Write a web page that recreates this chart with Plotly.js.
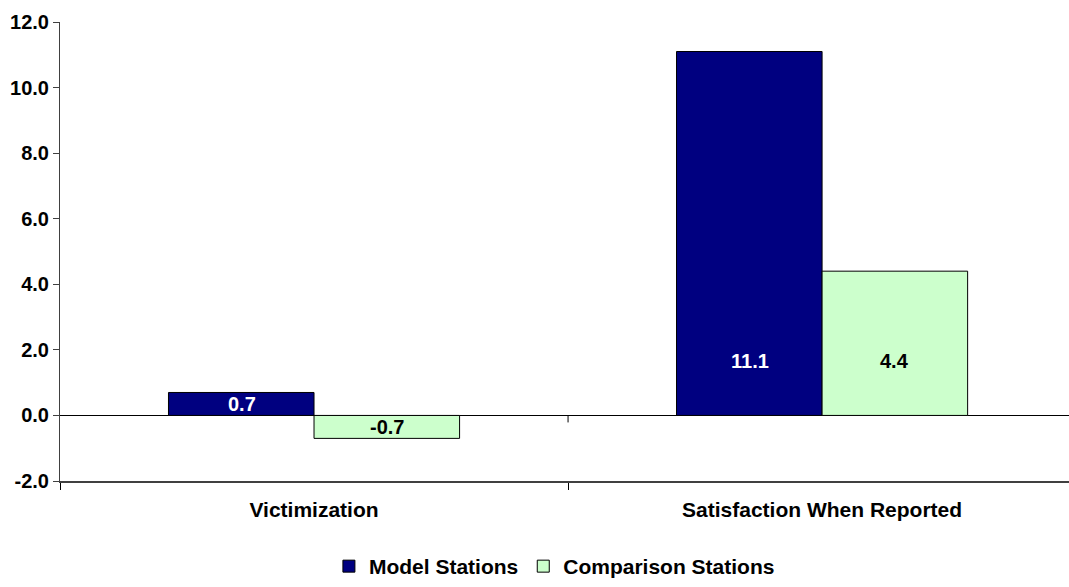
<!DOCTYPE html>
<html>
<head>
<meta charset="utf-8">
<script src="https://cdn.plot.ly/plotly-3.0.1.min.js"></script>
<style>html,body{margin:0;padding:0;background:#fff;}#chart{width:1069px;height:587px;}</style>
</head>
<body>
<div id="chart"></div>
<script>
const categories = ["Victimization", "Satisfaction When Reported"];
const modelValues = [0.7, 11.1];
const comparisonValues = [-0.7, 4.4];
const seriesNames = ["Model Stations", "Comparison Stations"];
const yTickVals = [-2, 0, 2, 4, 6, 8, 10, 12];
const yTickText = ["-2.0", "0.0", "2.0", "4.0", "6.0", "8.0", "10.0", "12.0"];

const FONT = "Liberation Sans, Arial, sans-serif";
const labelCap = 1.65;

function labelY(v) { return Math.sign(v) * Math.min(Math.abs(v) / 2, labelCap); }

const traces = [
  {
    type: "bar", name: seriesNames[0], x: categories, y: modelValues,
    marker: { color: "#000080", line: { color: "#000000", width: 1 } },
    hoverinfo: "none"
  },
  {
    type: "bar", name: seriesNames[1], x: categories, y: comparisonValues,
    marker: { color: "#CCFFCC", line: { color: "#000000", width: 1 } },
    hoverinfo: "none"
  }
];

const annotations = [];
categories.forEach((c, i) => {
  annotations.push({
    x: c, y: labelY(modelValues[i]), xref: "x", yref: "y", xshift: -72.5,
    text: modelValues[i].toFixed(1), showarrow: false,
    font: { family: FONT, size: 20, color: "#ffffff", weight: "bold" }
  });
  annotations.push({
    x: c, y: labelY(comparisonValues[i]), xref: "x", yref: "y", xshift: 72.5,
    text: comparisonValues[i].toFixed(1), showarrow: false,
    font: { family: FONT, size: 20, color: "#000000", weight: "bold" }
  });
});

const layout = {
  width: 1069, height: 587,
  margin: { l: 60, r: 0, t: 22, b: 106 },
  paper_bgcolor: "#ffffff", plot_bgcolor: "#ffffff",
  barmode: "group", bargap: 0.427, bargroupgap: 0,
  font: { family: FONT, size: 20, color: "#000000", weight: "bold" },
  showlegend: true,
  legend: {
    orientation: "h", x: 0.49, xanchor: "center", y: 8, yref: "container", yanchor: "middle",
    font: { family: FONT, size: 21, color: "#000000", weight: "bold" },
    itemwidth: 30, tracegroupgap: 0
  },
  xaxis: {
    type: "category", range: [-0.5, 1.486],
    showline: true, linecolor: "#404040", linewidth: 2,
    ticks: "outside", tickson: "boundaries", ticklen: 7, tickcolor: "#000000", tickwidth: 1,
    showgrid: false, zeroline: false, fixedrange: true,
    tickfont: { family: FONT, size: 21, color: "#000000", weight: "bold" },
    ticklabelstandoff: 9
  },
  yaxis: {
    range: [-2, 12], tickvals: yTickVals, ticktext: yTickText,
    showline: true, linecolor: "#404040", linewidth: 1,
    ticks: "outside", ticklen: 6, tickcolor: "#404040",
    showgrid: false, zeroline: true, zerolinecolor: "#000000", zerolinewidth: 1,
    tickfont: { family: FONT, size: 20, color: "#000000", weight: "bold" }
  },
  shapes: [
    { type: "line", xref: "x", yref: "y", x0: 0.5, x1: 0.5, ysizemode: "pixel", yanchor: 0, y0: 0, y1: -7,
      line: { color: "#000000", width: 1 } }
  ],
  annotations: annotations
};

Plotly.newPlot("chart", traces, layout, { displayModeBar: false, staticPlot: true });
</script>
</body>
</html>
